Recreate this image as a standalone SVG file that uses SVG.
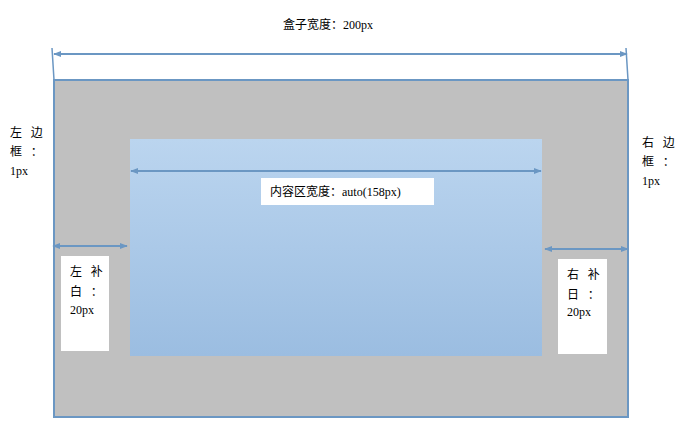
<svg xmlns="http://www.w3.org/2000/svg" width="690" height="430" viewBox="0 0 690 430">
<defs>
<linearGradient id="cg" x1="0" y1="0" x2="0" y2="1">
<stop offset="0" stop-color="#bbd5ef"/>
<stop offset="1" stop-color="#9bbde1"/>
</linearGradient>
<marker id="ahs" viewBox="0 0 10 10" refX="9" refY="5" markerWidth="8" markerHeight="8" orient="auto-start-reverse" markerUnits="userSpaceOnUse">
<path d="M0,1 L10,5 L0,9 Z" fill="#6b97c3"/>
</marker>
</defs>
<style>
text{font-family:"Liberation Serif","Noto Sans CJK SC",serif;font-size:12px;fill:#000}
.cjk{font-family:"Noto Sans CJK SC",sans-serif;font-size:12px}
.sp{letter-spacing:3px}
.dim{stroke:#6b97c3;stroke-width:2;fill:none}
.ext{stroke:#6b97c3;stroke-width:1.5;fill:none}
.lab{fill:#fff}
</style>
<g id="outer-box">
<rect x="54" y="80" width="574" height="337" fill="#c0c0c0" stroke="#6b97c3" stroke-width="2"/>
</g>
<g id="content-box">
<rect x="130" y="139" width="412" height="217" fill="url(#cg)"/>
</g>
<g id="title">
<text x="283" y="29" font-size="12.5"><tspan class="cjk">盒子宽度：</tspan>200px</text>
</g>
<g id="connectors">
<line class="ext" x1="52" y1="48" x2="54" y2="80"/>
<line class="ext" x1="626" y1="48" x2="628" y2="80"/>
<line class="dim" x1="54" y1="54" x2="627" y2="54" marker-start="url(#ahs)" marker-end="url(#ahs)"/>
<line class="dim" x1="131" y1="171" x2="541" y2="171" marker-start="url(#ahs)" marker-end="url(#ahs)"/>
<line class="dim" x1="53" y1="246" x2="127" y2="246" marker-start="url(#ahs)" marker-end="url(#ahs)"/>
<line class="dim" x1="545" y1="249" x2="628" y2="249" marker-start="url(#ahs)" marker-end="url(#ahs)"/>
</g>
<g id="content-label">
<rect class="lab" x="261" y="178" width="173" height="27"/>
<text x="270" y="196"><tspan class="cjk">内容区宽度：</tspan>auto(158px)</text>
</g>
<g id="left-border-label">
<text class="cjk sp" x="10" y="137">左 边</text>
<text class="cjk sp" x="10" y="156">框 ：</text>
<text x="10" y="175">1px</text>
</g>
<g id="right-border-label">
<text class="cjk sp" x="642" y="147">右 边</text>
<text class="cjk sp" x="642" y="166">框 ：</text>
<text x="642" y="185">1px</text>
</g>
<g id="left-padding">
<rect class="lab" x="61" y="256" width="48" height="95"/>
<text class="cjk sp" x="70" y="276">左 补</text>
<text class="cjk sp" x="70" y="296">白 ：</text>
<text x="70" y="314">20px</text>
</g>
<g id="right-padding">
<rect class="lab" x="558" y="259" width="49" height="95"/>
<text class="cjk sp" x="567" y="279">右 补</text>
<text class="cjk sp" x="567" y="299">日 ：</text>
<text x="567" y="316">20px</text>
</g>
</svg>
